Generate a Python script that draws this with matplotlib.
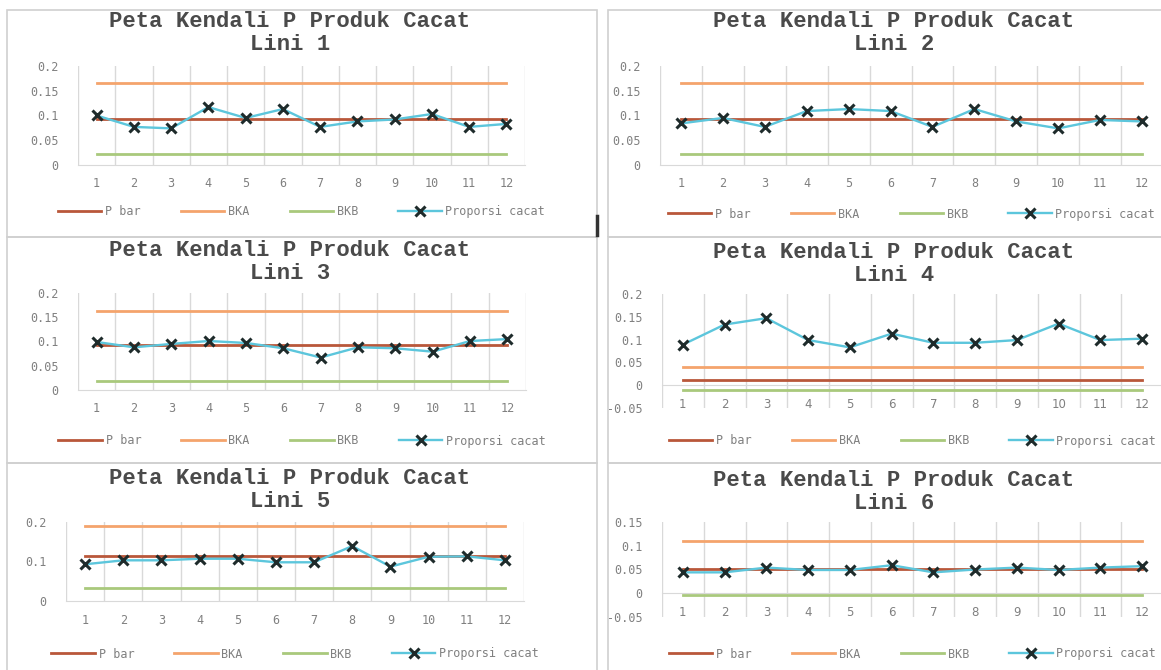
import matplotlib
matplotlib.use('Agg')
import matplotlib.pyplot as plt
from matplotlib.patches import Rectangle
from matplotlib.lines import Line2D
import numpy as np

W, H = 1161, 670

bulan = [str(i) for i in range(1, 13)]

lini1 = [0.100, 0.077, 0.074, 0.117, 0.095, 0.113, 0.077, 0.088, 0.092, 0.103, 0.077, 0.083]
lini2 = [0.084, 0.095, 0.077, 0.109, 0.113, 0.109, 0.077, 0.113, 0.088, 0.074, 0.091, 0.088]
lini3 = [0.099, 0.088, 0.095, 0.101, 0.097, 0.086, 0.067, 0.088, 0.086, 0.079, 0.101, 0.105]
lini4 = [0.089, 0.133, 0.147, 0.099, 0.083, 0.113, 0.093, 0.093, 0.099, 0.135, 0.099, 0.102]
lini5 = [0.093, 0.103, 0.103, 0.107, 0.107, 0.098, 0.098, 0.139, 0.087, 0.112, 0.113, 0.103]
lini6 = [0.044, 0.044, 0.054, 0.049, 0.049, 0.059, 0.044, 0.050, 0.054, 0.049, 0.054, 0.057]

pbar = [0.093, 0.093, 0.093, 0.012, 0.113, 0.051]
bka = [0.165, 0.165, 0.162, 0.040, 0.189, 0.111]
bkb = [0.022, 0.022, 0.018, -0.010, 0.034, -0.004]

ylims = [(0, 0.2), (0, 0.2), (0, 0.2), (-0.05, 0.2), (0, 0.2), (-0.05, 0.15)]
yticks = [
    [0, 0.05, 0.1, 0.15, 0.2],
    [0, 0.05, 0.1, 0.15, 0.2],
    [0, 0.05, 0.1, 0.15, 0.2],
    [-0.05, 0, 0.05, 0.1, 0.15, 0.2],
    [0, 0.1, 0.2],
    [-0.05, 0, 0.05, 0.1, 0.15],
]

# plot area in pixels: left, right, top, bottom
areas = [
    (78, 525, 66, 165),
    (660, 1163, 66, 165),
    (78, 526, 293, 390),
    (662, 1163, 294, 408),
    (66, 524, 522, 601),
    (662, 1163, 522, 617),
]
# panel boxes: x0, x1, y0, y1
boxes = [
    (7, 597, 10, 237),
    (608, 1170, 10, 237),
    (7, 597, 237, 463),
    (608, 1170, 237, 463),
    (7, 597, 463, 680),
    (608, 1170, 463, 680),
]
title_pos = [(290, 33), (894, 33), (290, 262), (894, 264), (290, 490), (894, 492)]
legend_y = [212, 214, 441, 441, 654, 654]

C_PBAR = '#b9573a'
C_BKA = '#f4a46c'
C_BKB = '#a9c97c'
C_PROP = '#5cc6dc'
GRAY = '#808080'
GRID = '#d9d9d9'

data = [lini1, lini2, lini3, lini4, lini5, lini6]

fig = plt.figure(figsize=(W / 100, H / 100), dpi=100)
fig.patch.set_facecolor('white')

for b in boxes:
    fig.patches.append(Rectangle((b[0] / W, 1 - b[3] / H), (b[1] - b[0]) / W, (b[3] - b[2]) / H,
                                 transform=fig.transFigure, fill=False, edgecolor='#d0d0d0', lw=1.2))

x = np.arange(1, 13)
for i in range(6):
    l, r, t, b = areas[i]
    ax = fig.add_axes([l / W, 1 - b / H, (r - l) / W, (b - t) / H])
    ax.set_xlim(0.5, 12.5)
    ax.set_ylim(*ylims[i])
    n = len(x)
    ax.plot(x, [pbar[i]] * n, color=C_PBAR, lw=2, label='P bar')
    ax.plot(x, [bka[i]] * n, color=C_BKA, lw=2, label='BKA')
    ax.plot(x, [bkb[i]] * n, color=C_BKB, lw=2, label='BKB')
    ax.plot(x, data[i], color=C_PROP, lw=1.7, marker='x', markersize=7.5,
            markeredgewidth=2.2, markeredgecolor='#1e2b2b', label='Proporsi cacat')

    ax.set_xticks(x)
    ax.set_xticklabels(bulan)
    ax.set_xticks(np.arange(0.5, 13, 1), minor=True)
    ax.grid(which='minor', axis='x', color=GRID, lw=1)
    ax.set_yticks(yticks[i])
    ax.set_yticklabels(['%g' % v for v in yticks[i]])
    ax.tick_params(axis='both', which='both', length=0, colors=GRAY, labelsize=8.5)
    ax.tick_params(axis='y', pad=14)
    ax.tick_params(axis='x', pad=9)
    for lab in ax.get_xticklabels() + ax.get_yticklabels():
        lab.set_family('DejaVu Sans Mono')
    for s in ['top', 'right', 'left']:
        ax.spines[s].set_visible(False)
    ax.spines['bottom'].set_color(GRID)
    if ylims[i][0] < 0:
        ax.spines['bottom'].set_position(('data', 0))
    ax.set_facecolor('none')

    tx, ty = title_pos[i]
    fig.text(tx / W, 1 - ty / H, 'Peta Kendali P Produk Cacat\nLini %d' % (i + 1),
             ha='center', va='center', family='Liberation Mono', weight='bold',
             fontsize=16, color='#4a4a4a', linespacing=1.08)

    leg = ax.legend(loc='center', bbox_to_anchor=((l + r) / 2 / W, 1 - legend_y[i] / H),
                    bbox_transform=fig.transFigure, ncol=4, frameon=False,
                    handlelength=3.7, columnspacing=3.4, handletextpad=0.3,
                    prop={'family': 'DejaVu Sans Mono', 'size': 8.5})
    for t_ in leg.get_texts():
        t_.set_color(GRAY)

# small dark mark between the top panels
fig.lines.append(Line2D([597 / W, 597 / W], [1 - 216 / H, 1 - 235 / H],
                        transform=fig.transFigure, color='#333333', lw=2.5))

fig.savefig('out.png', dpi=100)
